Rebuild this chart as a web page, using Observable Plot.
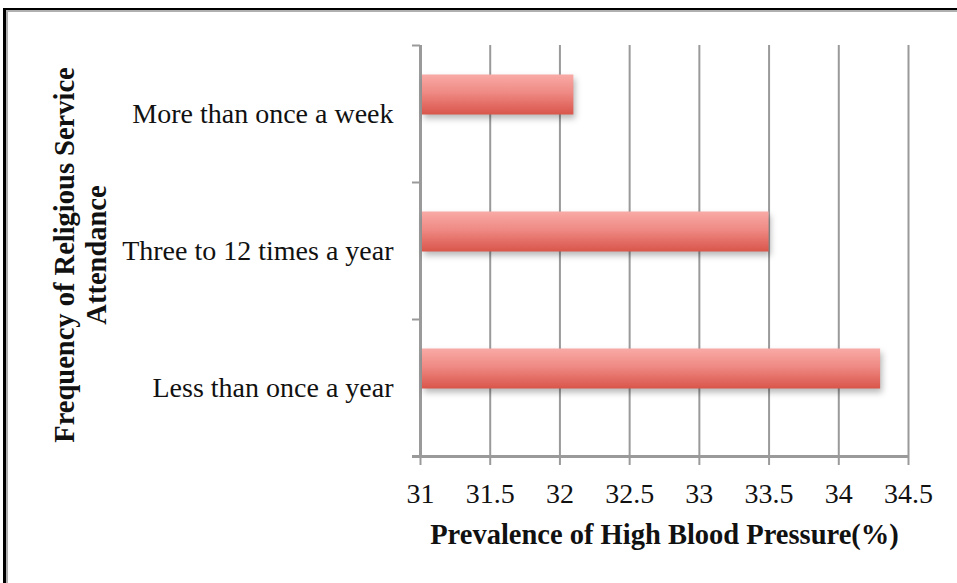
<!DOCTYPE html>
<html>
<head>
<meta charset="utf-8">
<script src="https://cdn.jsdelivr.net/npm/d3@7"></script>
<script src="https://cdn.jsdelivr.net/npm/@observablehq/plot@0.6"></script>
<style>
  html, body { margin: 0; padding: 0; background: #fff; overflow: hidden; }
  #wrap { position: relative; width: 957px; height: 583px; overflow: hidden; }
  #chart { position: absolute; left: 0; top: 0; }
  #border { position: absolute; left: 3px; top: 8px; width: 1200px; height: 1200px;
            border-top: 2px solid #000; border-left: 3px solid #000;
            box-shadow: inset 2px 2px 0 #b0b0b0; pointer-events: none; }
</style>
</head>
<body>
<div id="wrap"><div id="chart"></div><div id="border"></div></div>
<script>
const categories = ["More than once a week", "Three to 12 times a year", "Less than once a year"];
const values = [32.1, 33.5, 34.3];
const xTicks = [31, 31.5, 32, 32.5, 33, 33.5, 34, 34.5];
const xDomain = [31, 34.5];
const xTitle = "Prevalence of High Blood Pressure(%)";
const yTitle = "Frequency of Religious Service\nAttendance";

const data = categories.map((c, i) => ({category: c, value: values[i]}));
const gridColor = "#9a9a9a";

const chart = Plot.plot({
  width: 957,
  height: 583,
  marginLeft: 420,
  marginRight: 49,
  marginTop: 45,
  marginBottom: 127,
  style: {fontFamily: "'Liberation Serif', serif", background: "transparent", color: "#111"},
  x: {domain: xDomain, axis: null},
  y: {domain: categories, padding: 0, axis: null},
  marks: [
    Plot.ruleX(xTicks, {x: d => d, stroke: gridColor, strokeWidth: 2}),
    Plot.ruleX(xDomain.slice(0, 1), {x: d => d, stroke: gridColor, strokeWidth: 3}),
    Plot.ruleY(categories, {y: d => d, x1: xDomain[0], x2: xDomain[0], insetLeft: -8, dy: -68.5, stroke: gridColor, strokeWidth: 2}),
    Plot.ruleY(categories.slice(-1), {y: d => d, x1: xDomain[0], x2: xDomain[1], insetLeft: -8, dy: 68.5, stroke: gridColor, strokeWidth: 3}),
    Plot.axisX({ticks: xTicks, tickSize: 9, tickPadding: 18, stroke: gridColor, strokeWidth: 2, fontSize: 28, fill: "#111", tickFormat: d => String(d), label: null}),
    Plot.axisY({tickSize: 0, tickPadding: 27, fontSize: 28, fill: "#111", label: null}),
    Plot.barX(data, {y: "category", x1: xDomain[0], x2: "value", fill: "url(#barGrad)", insetTop: 48.5, insetBottom: 48.5, insetLeft: 2, dy: -19}),
    Plot.text([xTitle], {text: d => d, frameAnchor: "bottom", dy: 87, fontSize: 28.5, fontWeight: "bold", fill: "#111"}),
    Plot.text([yTitle], {text: d => d, frameAnchor: "left", textAnchor: "middle", dx: -341, dy: 4, rotate: -90, fontSize: 28.5, fontWeight: "bold", lineHeight: 1.12, fill: "#111"})
  ]
});

const svg = d3.select(chart);
const defs = svg.insert("defs", ":first-child");
const grad = defs.append("linearGradient").attr("id", "barGrad").attr("x1", 0).attr("x2", 0).attr("y1", 0).attr("y2", 1);
grad.append("stop").attr("offset", "0%").attr("stop-color", "#f9aaa6");
grad.append("stop").attr("offset", "45%").attr("stop-color", "#ef8a84");
grad.append("stop").attr("offset", "100%").attr("stop-color", "#d9554b");
svg.selectAll("g[aria-label='bar'] rect").style("filter", "drop-shadow(2px 4px 3px rgba(0,0,0,0.28))");

document.getElementById("chart").appendChild(chart);
</script>
</body>
</html>
